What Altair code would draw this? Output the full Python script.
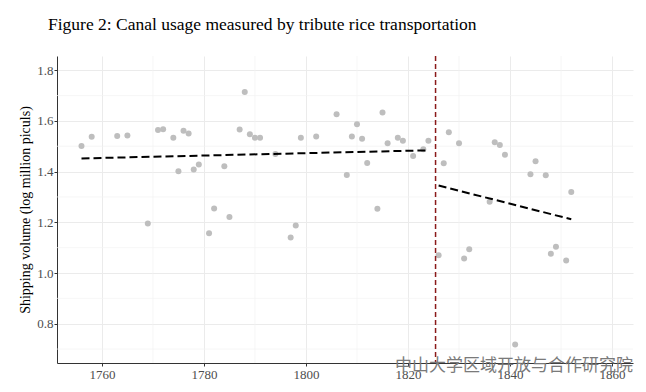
import altair as alt
import pandas as pd

# ---- data ----
years = [1756, 1758, 1763, 1765, 1769, 1771, 1772, 1774, 1775, 1776,
         1777, 1778, 1779, 1781, 1782, 1784, 1785, 1787, 1788, 1789,
         1790, 1791, 1794, 1797, 1798, 1799, 1802, 1806, 1808, 1809,
         1810, 1811, 1812, 1814, 1815, 1816, 1818, 1819, 1821, 1823,
         1824, 1826, 1827, 1828, 1830, 1831, 1832, 1836, 1837, 1838,
         1839, 1841, 1844, 1845, 1847, 1848, 1849, 1851, 1852]
volume = [1.501, 1.537, 1.540, 1.542, 1.195, 1.564, 1.567, 1.534, 1.401, 1.561,
          1.550, 1.408, 1.428, 1.157, 1.254, 1.421, 1.221, 1.566, 1.714, 1.547,
          1.534, 1.534, 1.469, 1.140, 1.187, 1.534, 1.538, 1.626, 1.387, 1.538,
          1.587, 1.530, 1.434, 1.253, 1.633, 1.512, 1.534, 1.522, 1.462, 1.488,
          1.522, 1.070, 1.433, 1.555, 1.512, 1.057, 1.094, 1.281, 1.516, 1.505,
          1.466, 0.718, 1.390, 1.441, 1.386, 1.076, 1.104, 1.049, 1.320]

fit_period = ["pre", "pre", "post", "post"]
fit_years = [1756, 1824, 1826, 1852]
fit_values = [1.452, 1.484, 1.345, 1.212]

cutoff = [1825.4]

x_major = [1760, 1780, 1800, 1820, 1840, 1860]
x_minor = [1770, 1790, 1810, 1830, 1850]
y_major = [0.8, 1.0, 1.2, 1.4, 1.6, 1.8]
y_minor = [0.7, 0.9, 1.1, 1.3, 1.5, 1.7]

title_text = "Figure 2: Canal usage measured by tribute rice transportation"
y_title = "Shipping volume (log million piculs)"
watermark = "中山大学区域开放与合作研究院"

SERIF = "Liberation Serif"

points = pd.DataFrame({"year": years, "value": volume})
fits = pd.DataFrame({"period": fit_period, "year": fit_years, "value": fit_values})
vline = pd.DataFrame({"year": cutoff})
xminor = pd.DataFrame({"year": x_minor})
yminor = pd.DataFrame({"value": y_minor})
wm = pd.DataFrame({"t": [watermark]})

x_scale = alt.Scale(domain=[1751.2, 1864.1], nice=False, zero=False)
y_scale = alt.Scale(domain=[0.645, 1.856], nice=False, zero=False)

x_axis = alt.Axis(values=x_major, format="d", grid=True, gridColor="#ebebeb",
                  gridWidth=1, domainColor="#333333", domainWidth=1,
                  tickColor="#333333", tickSize=3, labelFont=SERIF,
                  labelFontSize=13, labelColor="#4d4d4d", labelPadding=2,
                  labelFlush=False)
y_axis = alt.Axis(values=y_major, format=".1f", grid=True, gridColor="#ebebeb",
                  gridWidth=1, domainColor="#333333", domainWidth=1,
                  tickColor="#333333", tickSize=3, labelFont=SERIF,
                  labelFontSize=13, labelColor="#4d4d4d", labelPadding=1,
                  titleFont=SERIF, titleFontSize=14, titleFontWeight="normal",
                  titleColor="#000000", titlePadding=4)


def X(field="year"):
    return alt.X(f"{field}:Q", scale=x_scale, axis=x_axis, title="")


def Y(field="value"):
    return alt.Y(f"{field}:Q", scale=y_scale, axis=y_axis, title=y_title)


minor_x = alt.Chart(xminor).mark_rule(color="#f2f2f2", strokeWidth=0.7).encode(x=X())
minor_y = alt.Chart(yminor).mark_rule(color="#f2f2f2", strokeWidth=0.7).encode(y=Y())

pts = alt.Chart(points).mark_circle(size=36, color="#bebebe", opacity=1).encode(
    x=X(), y=Y())

lines = alt.Chart(fits).mark_line(color="#000000", strokeWidth=2,
                                  strokeDash=[8, 4]).encode(
    x=X(), y=Y(), detail="period:N")

vrule = alt.Chart(vline).mark_rule(color="#8b1a1a", strokeWidth=1.5,
                                   strokeDash=[5, 3]).encode(x=X())

wmark = alt.Chart(wm).mark_text(font="Noto Sans CJK SC", fontSize=17,
                                color="#7a7a7a", align="left",
                                baseline="middle").encode(
    text="t:N", x=alt.value(338), y=alt.value(310))

chart = alt.layer(minor_x, minor_y, pts, lines, vrule, wmark).properties(
    width=576, height=307,
    title=alt.TitleParams(title_text, anchor="start", frame="group", dx=-9,
                          offset=22, font=SERIF, fontSize=17.5,
                          fontWeight="normal", color="#000000"),
    autosize=alt.AutoSizeParams(type="none"),
    padding={"left": 49, "top": 48, "right": 5, "bottom": 21},
).configure_view(stroke=None)

chart.save("out.html", embed_options={"renderer": "svg", "actions": False})
